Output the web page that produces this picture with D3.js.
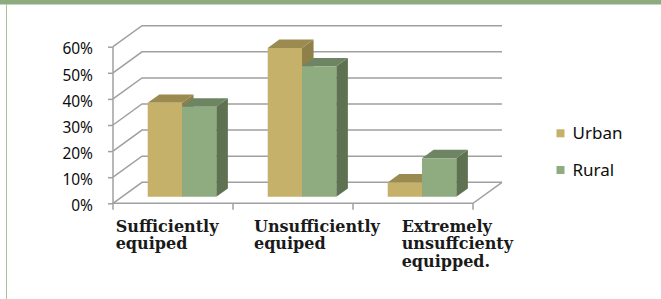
<!DOCTYPE html>
<html>
<head>
<meta charset="utf-8">
<script src="https://cdn.jsdelivr.net/npm/d3@7"></script>
<style>
  html, body { margin: 0; padding: 0; background: #fff; }
  svg { display: block; }
</style>
</head>
<body>
<svg id="chart" width="661" height="299"></svg>
<script>
// values
const categories = ["Sufficiently equiped", "Unsufficiently equiped", "Extremely unsuffcienty equipped."];
const categoryLines = [["Sufficiently", "equiped"], ["Unsufficiently", "equiped"], ["Extremely", "unsuffcienty", "equipped."]];
const series = ["Urban", "Rural"];
const urban = [0.36, 0.57, 0.055];
const rural = [0.345, 0.50, 0.148];
const yTicks = [0, 0.1, 0.2, 0.3, 0.4, 0.5, 0.6];

// look
const W = 661, H = 299;
const x0 = 113, x1 = 473, yBase = 203.3, yTop = 46.7;
const DX = 29, DY = -21;          // depth of the walls
const Z0 = 0.31, Z1 = 0.71;       // depth the columns occupy
const labelDx = [2.7, 21, 48.7];
const colors = {
  Urban: { front: "#c5b169", top: "#9b8b50", side: "#8f8049" },
  Rural: { front: "#8fab80", top: "#6d8562", side: "#5e7252" }
};
const gridColor = "#a0a0a0";

const svg = d3.select("#chart");

// frame: green band on top, thin green rule on the left
svg.append("rect").attr("x", 0).attr("y", 0).attr("width", W).attr("height", 4.5).attr("fill", "#8eab7f");
svg.append("line").attr("x1", 6.5).attr("x2", 6.5).attr("y1", 4).attr("y2", H)
  .attr("stroke", "#a8c296").attr("stroke-width", 1);

const y = d3.scaleLinear().domain([0, 0.6]).range([yBase, yTop]);
const xCat = d3.scaleBand().domain(categories).range([x0, x1]);
const xSer = d3.scaleBand().domain(series).range([0, xCat.bandwidth()]).paddingOuter(0.75);

// 3D projection: floor x, value, depth z -> screen
const P = (xf, v, z) => [xf + z * DX, y(v) + z * DY];
const pts = (arr) => arr.map((p) => p.join(",")).join(" ");

// walls and gridlines
const walls = svg.append("g").attr("fill", "none").attr("stroke", gridColor).attr("stroke-width", 1.5);
yTicks.forEach((v) => {
  walls.append("polyline").attr("points", pts([P(x0, v, 0), P(x0, v, 1), P(x1, v, 1)]));
});
// floor
walls.append("polyline").attr("points", pts([P(x0, 0, 0), P(x1, 0, 0), P(x1, 0, 1)]));

// category tick marks on the floor edge
d3.range(categories.length + 1).forEach((i) => {
  const xx = i < categories.length ? xCat(categories[i]) : x1;
  walls.append("line").attr("x1", xx).attr("x2", xx).attr("y1", yBase).attr("y2", yBase + 6.5);
});

// front value axis
const axis = svg.append("g").attr("transform", `translate(${x0},0)`)
  .call(d3.axisLeft(y).tickValues(yTicks).tickFormat(d3.format(".0%")).tickSize(5).tickPadding(15));
axis.select(".domain").attr("stroke", gridColor).attr("stroke-width", 1.5).attr("d", `M0,${yTop}V${yBase}`);
axis.selectAll(".tick line").attr("stroke", gridColor).attr("stroke-width", 1.5);
axis.selectAll(".tick text")
  .attr("font-family", "'Noto Sans', sans-serif").attr("font-size", 15.5).attr("fill", "#0d0d0d")
  .attr("dy", "0.37em").attr("y", 1.5);

// columns
const bars = svg.append("g");
categories.forEach((cat, i) => {
  [["Urban", urban[i]], ["Rural", rural[i]]].forEach(([s, v]) => {
    const l = xCat(cat) + xSer(s), r = l + xSer.bandwidth();
    const c = colors[s];
    bars.append("polygon").attr("fill", c.side)
      .attr("points", pts([P(r, 0, Z0), P(r, 0, Z1), P(r, v, Z1), P(r, v, Z0)]));
    bars.append("polygon").attr("fill", c.top)
      .attr("points", pts([P(l, v, Z0), P(l, v, Z1), P(r, v, Z1), P(r, v, Z0)]));
    bars.append("polygon").attr("fill", c.front)
      .attr("points", pts([P(l, 0, Z0), P(r, 0, Z0), P(r, v, Z0), P(l, v, Z0)]));
  });
});

// category labels
categories.forEach((cat, i) => {
  const t = svg.append("text")
    .attr("font-family", "'DejaVu Serif', serif").attr("font-weight", "bold")
    .attr("font-size", 16).attr("fill", "#1a1a1a");
  categoryLines[i].forEach((line, k) => {
    t.append("tspan").attr("x", xCat(cat) + labelDx[i]).attr("y", 231.7 + k * 17.5).text(line);
  });
});

// legend
const legend = svg.append("g").attr("font-family", "'Noto Sans', sans-serif").attr("font-size", 17).attr("fill", "#0d0d0d");
series.forEach((s, i) => {
  const yy = 133.3 + i * 36.7;
  legend.append("rect").attr("x", 556.5).attr("y", yy - 4).attr("width", 8).attr("height", 8)
    .attr("fill", colors[s].front);
  legend.append("text").attr("x", 572.5).attr("y", yy).attr("dy", "0.36em").text(s);
});
</script>
</body>
</html>
